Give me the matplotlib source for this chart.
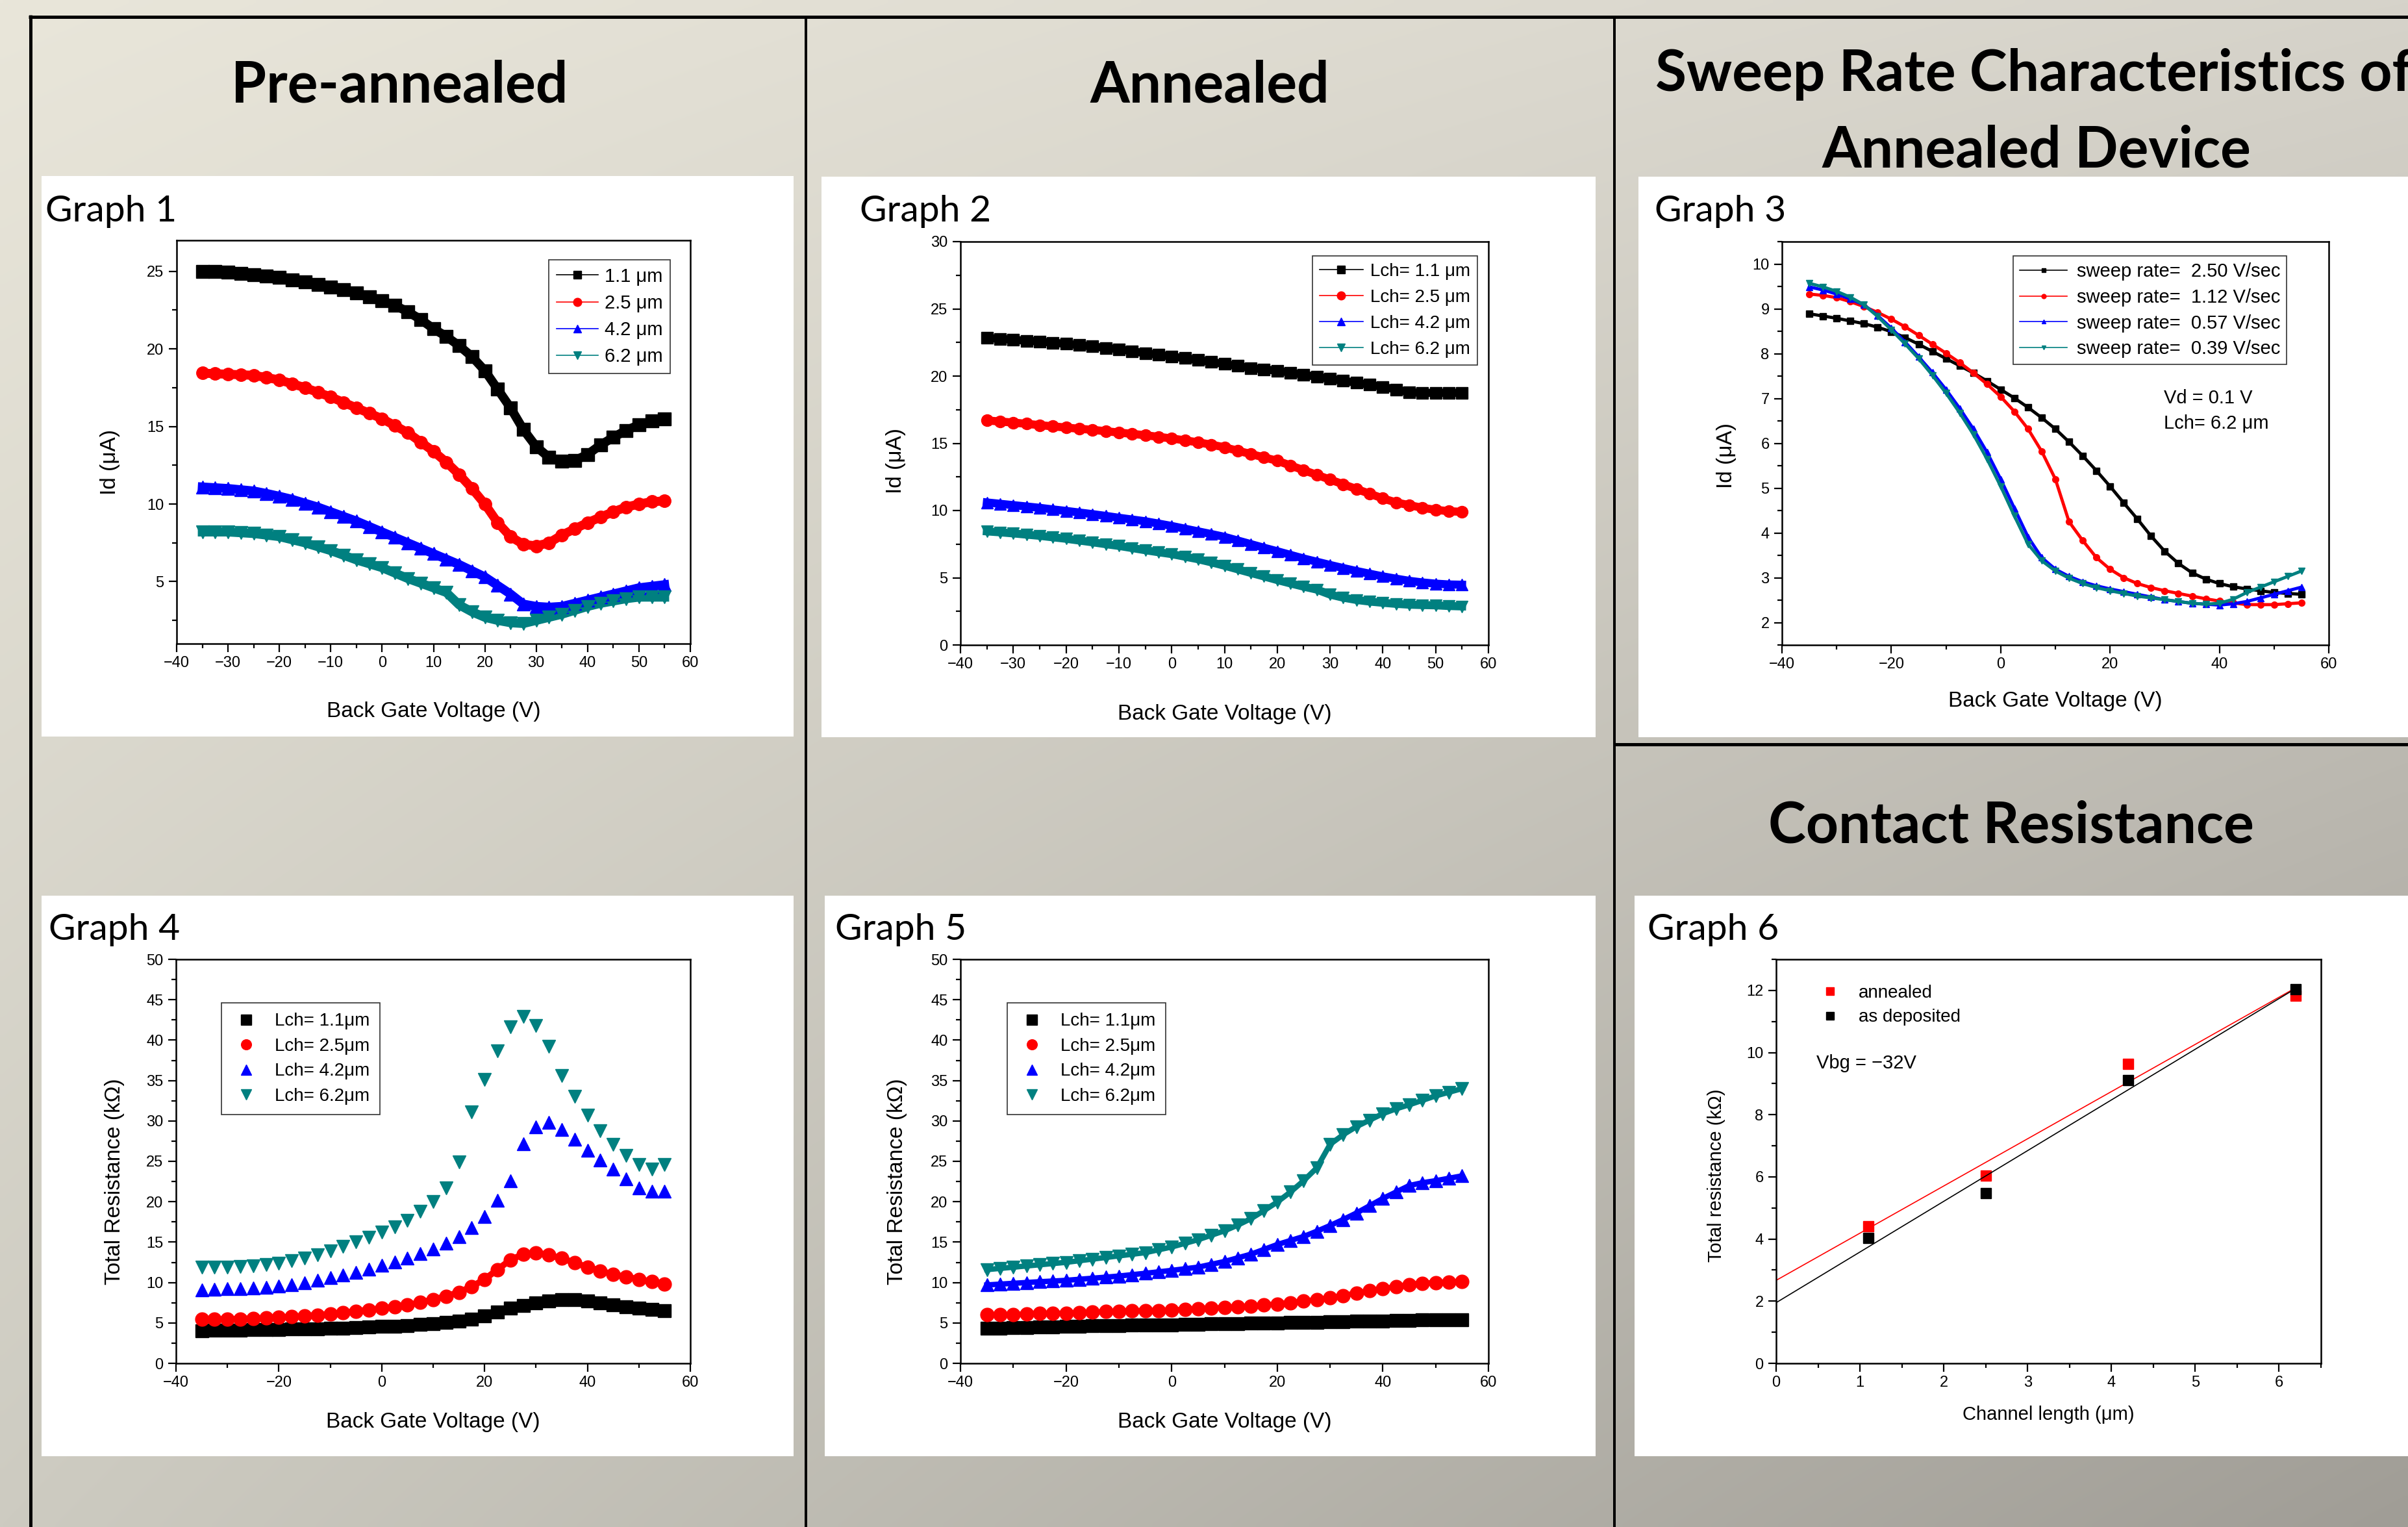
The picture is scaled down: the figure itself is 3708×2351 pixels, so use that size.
import numpy as np
import matplotlib
matplotlib.use("Agg")
import matplotlib.pyplot as plt
from matplotlib.ticker import MultipleLocator
from matplotlib.patches import Rectangle

vbg = np.arange(-35, 55.1, 2.5)

lch_labels = ["1.1", "2.5", "4.2", "6.2"]

# graph 1 : pre-annealed Id (uA)
g1_id_11 = [25.0, 24.97, 24.93, 24.87, 24.8, 24.7, 24.6, 24.45, 24.3, 24.15, 24.0, 23.8, 23.6, 23.35, 23.1, 22.8, 22.4, 21.9, 21.3,
            20.8, 20.2, 19.5, 18.6, 17.4, 16.2, 14.8, 13.7, 13.0, 12.75, 12.8, 13.2, 13.8, 14.3, 14.75, 15.1, 15.35, 15.5]
g1_id_25 = [18.44, 18.4, 18.37, 18.33, 18.3, 18.15, 18.0, 17.75, 17.5, 17.2, 16.9, 16.55, 16.2, 15.85, 15.5, 15.05, 14.6, 14.0, 13.4,
            12.7, 11.9, 11.0, 10.0, 8.8, 7.9, 7.4, 7.3, 7.5, 8.0, 8.4, 8.8, 9.15, 9.5, 9.8, 10.0, 10.15, 10.2]
g1_id_42 = [11.1, 11.05, 11.0, 10.92, 10.84, 10.68, 10.5, 10.3, 10.05, 9.8, 9.5, 9.2, 8.9, 8.55, 8.2, 7.85, 7.5, 7.15, 6.8,
            6.45, 6.1, 5.7, 5.3, 4.75, 4.2, 3.55, 3.4, 3.35, 3.4, 3.6, 3.8, 4.0, 4.2, 4.4, 4.6, 4.7, 4.8]
g1_id_62 = [8.2, 8.2, 8.2, 8.15, 8.1, 8.0, 7.9, 7.7, 7.5, 7.25, 7.0, 6.7, 6.4, 6.15, 5.9, 5.55, 5.2, 4.9, 4.6,
            4.3, 3.5, 3.05, 2.7, 2.5, 2.35, 2.3, 2.5, 2.7, 2.9, 3.15, 3.4, 3.6, 3.75, 3.9, 4.0, 4.0, 4.0]

# graph 2 : annealed Id (uA)
g2_id_11 = [22.84, 22.77, 22.7, 22.63, 22.57, 22.48, 22.4, 22.3, 22.2, 22.1, 22.0, 21.85, 21.7, 21.58, 21.45, 21.33, 21.2, 21.05, 20.9,
            20.75, 20.6, 20.5, 20.4, 20.25, 20.1, 19.95, 19.8, 19.65, 19.5, 19.35, 19.2, 19.0, 18.8, 18.75, 18.75, 18.75, 18.75]
g2_id_25 = [16.7, 16.62, 16.54, 16.45, 16.35, 16.26, 16.17, 16.08, 16.0, 15.9, 15.8, 15.7, 15.6, 15.48, 15.36, 15.22, 15.07, 14.9, 14.7,
            14.45, 14.2, 13.95, 13.7, 13.35, 13.0, 12.65, 12.3, 11.95, 11.6, 11.25, 10.9, 10.6, 10.4, 10.2, 10.05, 9.95, 9.9]
g2_id_42 = [10.6, 10.5, 10.4, 10.3, 10.2, 10.08, 9.97, 9.85, 9.73, 9.6, 9.46, 9.33, 9.2, 9.03, 8.85, 8.65, 8.45, 8.25, 8.04,
            7.77, 7.5, 7.23, 6.97, 6.7, 6.43, 6.19, 5.95, 5.72, 5.5, 5.3, 5.1, 4.93, 4.77, 4.65, 4.56, 4.5, 4.48]
g2_id_62 = [8.45, 8.38, 8.3, 8.21, 8.12, 8.01, 7.9, 7.77, 7.64, 7.5, 7.37, 7.21, 7.05, 6.9, 6.76, 6.57, 6.38, 6.15, 5.9,
            5.63, 5.36, 5.1, 4.83, 4.58, 4.34, 4.12, 3.75, 3.52, 3.35, 3.23, 3.14, 3.06, 3.0, 2.97, 2.95, 2.9, 2.87]

# graph 3 : sweep rate, Lch 6.2 um
rate_labels = ["2.50", "1.12", "0.57", "0.39"]
g3_id_250 = [8.89, 8.84, 8.79, 8.73, 8.67, 8.59, 8.49, 8.36, 8.21, 8.05, 7.89, 7.73, 7.57, 7.39, 7.2, 7.01, 6.8, 6.57, 6.32,
             6.03, 5.72, 5.39, 5.04, 4.67, 4.31, 3.93, 3.59, 3.32, 3.11, 2.97, 2.87, 2.8, 2.75, 2.71, 2.67, 2.65, 2.63]
g3_id_112 = [9.33, 9.3, 9.25, 9.16, 9.05, 8.92, 8.77, 8.6, 8.41, 8.21, 8.01, 7.8, 7.57, 7.32, 7.04, 6.71, 6.32, 5.82, 5.2,
             4.25, 3.83, 3.45, 3.19, 3.0, 2.87, 2.78, 2.71, 2.65, 2.59, 2.53, 2.48, 2.44, 2.4, 2.4, 2.4, 2.42, 2.44]
g3_id_057 = [9.49, 9.42, 9.33, 9.22, 9.09, 8.85, 8.57, 8.26, 7.93, 7.58, 7.2, 6.78, 6.32, 5.8, 5.2, 4.55, 3.91, 3.45, 3.19,
             3.03, 2.91, 2.82, 2.75, 2.69, 2.63, 2.57, 2.51, 2.47, 2.43, 2.41, 2.39, 2.42, 2.47, 2.55, 2.63, 2.71, 2.79]
g3_id_039 = [9.57, 9.49, 9.39, 9.26, 9.09, 8.83, 8.53, 8.22, 7.89, 7.52, 7.12, 6.68, 6.2, 5.65, 5.04, 4.38, 3.75, 3.38, 3.15,
             2.99, 2.87, 2.78, 2.71, 2.65, 2.59, 2.55, 2.51, 2.47, 2.43, 2.41, 2.43, 2.52, 2.67, 2.79, 2.91, 3.03, 3.15]

# graph 4 : pre-annealed total resistance (kOhm)
g4_r_11 = [4.02, 4.06, 4.1, 4.13, 4.15, 4.18, 4.2, 4.23, 4.26, 4.3, 4.33, 4.38, 4.43, 4.5, 4.55, 4.62, 4.7, 4.8, 4.9,
           5.05, 5.2, 5.5, 5.9, 6.35, 6.8, 7.15, 7.5, 7.75, 7.9, 7.85, 7.7, 7.45, 7.2, 7.0, 6.8, 6.65, 6.5]
g4_r_25 = [5.45, 5.45, 5.45, 5.5, 5.55, 5.6, 5.67, 5.75, 5.85, 5.97, 6.1, 6.27, 6.45, 6.62, 6.8, 7.0, 7.2, 7.52, 7.9,
           8.3, 8.8, 9.5, 10.4, 11.6, 12.8, 13.5, 13.7, 13.4, 13.0, 12.45, 11.9, 11.45, 11.0, 10.7, 10.4, 10.1, 9.8]
g4_r_42 = [9.1, 9.17, 9.24, 9.28, 9.33, 9.44, 9.55, 9.75, 10.0, 10.3, 10.6, 10.92, 11.25, 11.65, 12.1, 12.55, 13.0, 13.55, 14.15,
           14.9, 15.7, 16.8, 18.2, 20.2, 22.6, 27.2, 29.3, 29.8, 28.9, 27.7, 26.4, 25.2, 24.0, 22.8, 21.7, 21.3, 21.3]
g4_r_62 = [11.9, 11.9, 11.9, 11.97, 12.05, 12.2, 12.4, 12.68, 13.0, 13.42, 13.9, 14.45, 15.0, 15.6, 16.2, 16.9, 17.7, 18.8, 20.0,
           21.7, 24.9, 31.1, 35.1, 38.7, 41.6, 42.9, 41.8, 39.2, 35.6, 33.0, 30.7, 28.8, 27.1, 25.7, 24.6, 24.0, 24.6]

# graph 5 : annealed total resistance (kOhm)
g5_r_11 = [4.33, 4.36, 4.4, 4.44, 4.48, 4.52, 4.55, 4.59, 4.63, 4.67, 4.7, 4.72, 4.74, 4.76, 4.78, 4.81, 4.84, 4.87, 4.9,
           4.93, 4.96, 4.98, 5.0, 5.03, 5.06, 5.1, 5.13, 5.16, 5.19, 5.21, 5.22, 5.28, 5.33, 5.36, 5.36, 5.36, 5.36]
g5_r_25 = [6.0, 6.02, 6.05, 6.1, 6.15, 6.18, 6.2, 6.26, 6.33, 6.4, 6.45, 6.5, 6.53, 6.55, 6.6, 6.68, 6.75, 6.83, 6.9,
           7.0, 7.1, 7.2, 7.35, 7.5, 7.7, 7.9, 8.1, 8.4, 8.7, 9.0, 9.24, 9.5, 9.75, 9.9, 10.0, 10.08, 10.13]
g5_r_42 = [9.7, 9.8, 9.9, 10.0, 10.1, 10.18, 10.27, 10.4, 10.53, 10.66, 10.8, 10.97, 11.14, 11.32, 11.5, 11.7, 11.9, 12.25, 12.6,
           13.05, 13.5, 14.1, 14.7, 15.2, 15.7, 16.35, 17.05, 17.8, 18.6, 19.5, 20.4, 21.2, 22.0, 22.35, 22.6, 22.9, 23.2]
g5_r_62 = [11.6, 11.75, 11.9, 12.05, 12.2, 12.35, 12.5, 12.7, 12.9, 13.1, 13.3, 13.5, 13.7, 14.05, 14.4, 14.85, 15.3, 15.85, 16.4,
           17.1, 17.9, 18.9, 19.96, 21.2, 22.6, 24.2, 27.1, 28.3, 29.3, 30.1, 30.9, 31.5, 32.0, 32.55, 33.1, 33.55, 34.0]

# graph 6 : contact resistance
chan_len = [1.1, 2.5, 4.2, 6.2]
r_annealed = [4.41, 6.05, 9.64, 11.84]
r_deposited = [4.03, 5.47, 9.11, 12.03]

# ---------------- page layout (pixels of the 3708 x 2351 poster) ----------------
W, H = 3708, 2351
DPI = 100
PX = 72.0 / DPI  # points per pixel

colors = ["black", "#ff0000", "#0000ff", "#008080"]
markers = ["s", "o", "^", "v"]
sans = ["Liberation Sans", "DejaVu Sans"]
calibri = ["Lato", "DejaVu Sans"]

plt.rcParams["font.family"] = sans
plt.rcParams["axes.unicode_minus"] = True

fig = plt.figure(figsize=(W / DPI, H / DPI), dpi=DPI)


def box(l, t, r, b):
    return [l / W, 1 - b / H, (r - l) / W, (b - t) / H]


def fxy(x, y):
    return (x / W, 1 - y / H)


# background gradient
bg = fig.add_axes([0, 0, 1, 1], zorder=0)
u = np.linspace(0, 1, 400)[None, :, None]
v = np.linspace(0, 1, 260)[:, None, None]
tl = np.array([233, 230, 218]) / 255
tr = np.array([214, 211, 202]) / 255
bl = np.array([205, 203, 193]) / 255
br = np.array([160, 157, 150]) / 255
grad = tl * (1 - u) * (1 - v) + tr * u * (1 - v) + bl * (1 - u) * v + br * u * v
bg.imshow(grad, extent=[0, 1, 0, 1], aspect="auto", origin="upper", interpolation="bilinear")
bg.set_xlim(0, 1)
bg.set_ylim(0, 1)
bg.axis("off")

# white panels behind the graphs
panels = [(64, 271, 1222, 1134), (1265, 272, 2457, 1135), (2523, 272, 3708, 1135),
          (64, 1379, 1222, 2242), (1270, 1379, 2457, 2242), (2517, 1379, 3708, 2242)]
for l, t, r, b in panels:
    x0, y0 = fxy(l, b)
    bg.add_patch(Rectangle((x0, y0), (r - l) / W, (b - t) / H, facecolor="white", edgecolor="none"))

# frame lines
def hline(x0, x1, y, lw):
    a, yy = fxy(x0, y)
    b, _ = fxy(x1, y)
    bg.plot([a, b], [yy, yy], color="black", lw=lw * PX, solid_capstyle="butt", clip_on=False)


def vline(x, y0, y1, lw):
    xx, a = fxy(x, y0)
    _, b = fxy(x, y1)
    bg.plot([xx, xx], [a, b], color="black", lw=lw * PX, solid_capstyle="butt", clip_on=False)


hline(44, W, 25.5, 5)
vline(47, 23, H, 5)
vline(1241, 25, H, 4)
vline(2486, 25, H, 4)
hline(2486, W, 1146, 5)

# section titles
tkw = dict(fontsize=63, fontweight="bold", family=calibri, va="baseline")
fig.text(*fxy(615, 158), "Pre-annealed", ha="center", **tkw)
fig.text(*fxy(1863, 158), "Annealed", ha="center", **tkw)
fig.text(*fxy(2549, 140), "Sweep Rate Characteristics of", ha="left", **tkw)
fig.text(*fxy(3136, 258), "Annealed Device", ha="center", **tkw)
fig.text(*fxy(3097, 1297), "Contact Resistance", ha="center", **tkw)

graph_names = [("Graph 1", 70, 341), ("Graph 2", 1324, 341), ("Graph 3", 2548, 341),
               ("Graph 4", 75, 1447), ("Graph 5", 1286, 1447), ("Graph 6", 2537, 1447)]
for name, x, y in graph_names:
    fig.text(*fxy(x, y), name, fontsize=41, family=calibri, va="baseline", ha="left")


def make_ax(rect, xlim, xmaj, xmin, ylim, ymaj, ymin):
    ax = fig.add_axes(box(*rect), zorder=2)
    ax.set_xlim(*xlim)
    ax.set_ylim(*ylim)
    ax.xaxis.set_major_locator(MultipleLocator(xmaj))
    ax.xaxis.set_minor_locator(MultipleLocator(xmin))
    ax.yaxis.set_major_locator(MultipleLocator(ymaj))
    ax.yaxis.set_minor_locator(MultipleLocator(ymin))
    ax.tick_params(which="both", direction="out", top=False, right=False, width=1.6, labelsize=17, pad=5)
    ax.tick_params(which="major", length=9)
    ax.tick_params(which="minor", length=5)
    for s in ax.spines.values():
        s.set_linewidth(1.8)
    return ax


def place_labels(ax, xlabel, ylabel, xl_y, yl_x, yl_y, size=24):
    ax.set_xlabel(xlabel, fontsize=size)
    ax.set_ylabel(ylabel, fontsize=size)
    ax.xaxis.set_label_coords(0.5, xl_y)
    ax.yaxis.set_label_coords(yl_x, yl_y)
    ax.xaxis.label.set_va("center")
    ax.yaxis.label.set_va("center")


def legend_at(ax, x, y, **kw):
    opts = dict(loc="upper left", bbox_to_anchor=fxy(x, y), bbox_transform=fig.transFigure,
                fancybox=False, edgecolor="#333333", framealpha=1, borderaxespad=0, fontsize=19)
    opts.update(kw)
    leg = ax.legend(**opts)
    leg.get_frame().set_linewidth(1.2)
    return leg


# ---- Graph 1 ----
ax1 = make_ax((272, 370, 1063, 991), (-40, 60), 10, 5, (1, 27), 5, 2.5)
for ys, c, m, lab in zip([g1_id_11, g1_id_25, g1_id_42, g1_id_62], colors, markers, lch_labels):
    ax1.plot(vbg, ys, color=c, lw=10, zorder=2)
    ax1.plot(vbg, ys, color=c, marker=m, ms=14, lw=1.2, label=lab + " μm", zorder=3)
place_labels(ax1, "Back Gate Voltage (V)", "Id (μA)", -0.169, -0.129, 0.45)
legend_at(ax1, 845, 400, handlelength=2.2, handletextpad=0.35, labelspacing=0.45, borderpad=0.4,
          markerscale=0.65, fontsize=21)

# ---- Graph 2 ----
ax2 = make_ax((1479, 372, 2292, 993), (-40, 60), 10, 5, (0, 30), 5, 2.5)
for ys, c, m, lab in zip([g2_id_11, g2_id_25, g2_id_42, g2_id_62], colors, markers, lch_labels):
    ax2.plot(vbg, ys, color=c, lw=9, zorder=2)
    ax2.plot(vbg, ys, color=c, marker=m, ms=13, lw=1.2, label="Lch= " + lab + " μm", zorder=3)
place_labels(ax2, "Back Gate Voltage (V)", "Id (μA)", -0.171, -0.123, 0.456)
legend_at(ax2, 2021, 394, handlelength=2.4, handletextpad=0.4, labelspacing=0.5, borderpad=0.4,
          markerscale=0.7, fontsize=20)

# ---- Graph 3 ----
ax3 = make_ax((2744, 372, 3586, 993), (-40, 60), 20, 10, (1.5, 10.5), 1, 0.5)
for ys, c, m, lab in zip([g3_id_250, g3_id_112, g3_id_057, g3_id_039], colors, markers, rate_labels):
    ax3.plot(vbg, ys, color=c, marker=m, ms=7, lw=3.5, label="sweep rate=  " + lab + " V/sec")
place_labels(ax3, "Back Gate Voltage (V)", "Id (μA)", -0.139, -0.101, 0.469)
legend_at(ax3, 3100, 394, handlelength=2.5, handletextpad=0.5, labelspacing=0.4, borderpad=0.35,
          markerscale=0.7, fontsize=21)
for h in ax3.get_legend().get_lines():
    h.set_linewidth(1.2)
ax3.text(*fxy(3332, 613), "Vd = 0.1 V", transform=fig.transFigure, fontsize=21, va="center")
ax3.text(*fxy(3332, 652), "Lch= 6.2 μm", transform=fig.transFigure, fontsize=21, va="center")

# ---- Graph 4 ----
ax4 = make_ax((271, 1477, 1063, 2099), (-40, 60), 20, 10, (0, 50), 5, 2.5)
for ys, c, m, lab in zip([g4_r_11, g4_r_25, g4_r_42, g4_r_62], colors, markers, lch_labels):
    if m in ("s", "o"):
        ax4.plot(vbg, ys, color=c, lw=7, zorder=2)
    ax4.plot(vbg, ys, color=c, marker=m, ms=15, ls="none", label="Lch= " + lab + "μm", zorder=3)
place_labels(ax4, "Back Gate Voltage (V)", "Total Resistance (kΩ)", -0.145, -0.119, 0.45)
legend_at(ax4, 341, 1544, handlelength=1.6, handletextpad=0.8, labelspacing=0.45, borderpad=0.55,
          markerscale=0.75, fontsize=20)

# ---- Graph 5 ----
ax5 = make_ax((1479, 1477, 2292, 2099), (-40, 60), 20, 10, (0, 50), 5, 2.5)
for ys, c, m, lab in zip([g5_r_11, g5_r_25, g5_r_42, g5_r_62], colors, markers, lch_labels):
    ax5.plot(vbg, ys, color=c, lw=6, zorder=2)
    ax5.plot(vbg, ys, color=c, marker=m, ms=15, ls="none", label="Lch= " + lab + "μm", zorder=3)
place_labels(ax5, "Back Gate Voltage (V)", "Total Resistance (kΩ)", -0.145, -0.12, 0.45)
legend_at(ax5, 1551, 1544, handlelength=1.6, handletextpad=0.8, labelspacing=0.45, borderpad=0.55,
          markerscale=0.75, fontsize=20)

# ---- Graph 6 ----
ax6 = make_ax((2735, 1477, 3574, 2099), (0, 6.5), 1, 0.5, (0, 13), 2, 1)
fit_x = np.array([0, 6.2])
for ys, c, lab in [(r_annealed, "#ff0000", "annealed"), (r_deposited, "black", "as deposited")]:
    k, b0 = np.polyfit(chan_len, ys, 1)
    ax6.plot(fit_x, k * fit_x + b0, color=c, lw=1.2)
    ax6.plot(chan_len, ys, color=c, marker="s", ms=11, ls="none", label=lab)
place_labels(ax6, "Channel length (μm)", "Total resistance (kΩ)", -0.127, -0.11, 0.465, size=21)
legend_at(ax6, 2790, 1505, frameon=False, handlelength=1.2, handletextpad=1.0, labelspacing=0.4, fontsize=20,
          markerscale=0.8)
ax6.text(*fxy(2797, 1637), "Vbg = −32V", transform=fig.transFigure, fontsize=21, va="center")

fig.savefig("out.png", dpi=DPI)
